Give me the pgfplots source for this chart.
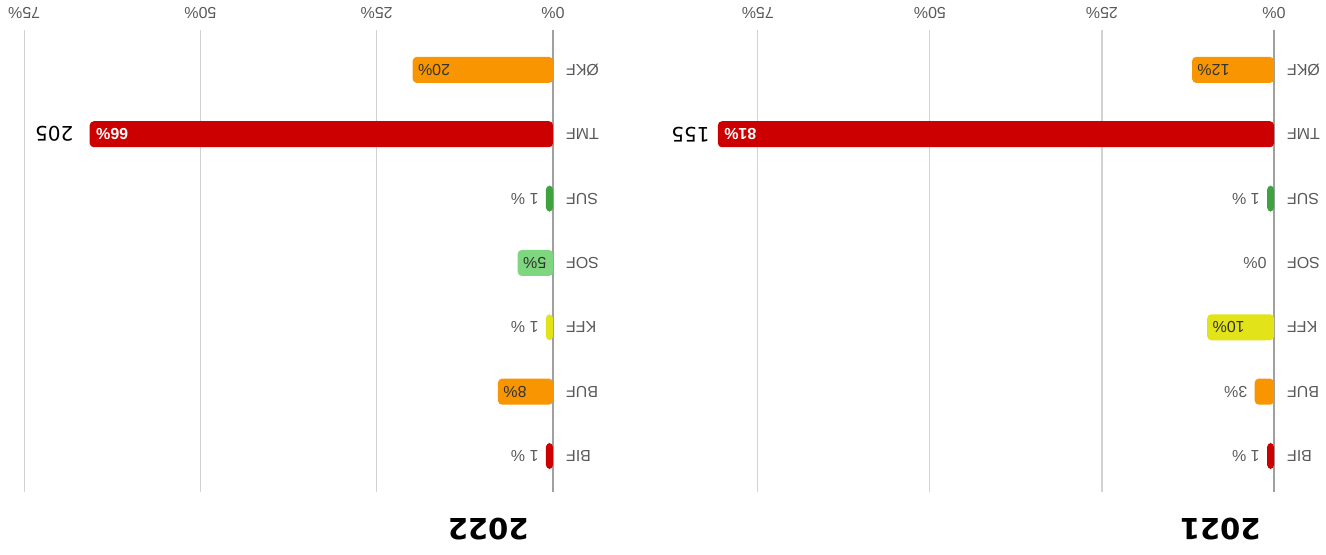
\documentclass[border=0pt]{standalone}
\usepackage{pgfplots}
\pgfplotsset{compat=1.18}
\usepackage{fontspec}
\setmainfont{Liberation Sans}
\newfontfamily\dejavu{DejaVu Sans}
\definecolor{cOrange}{HTML}{F99500}
\definecolor{cRed}{HTML}{CC0000}
\definecolor{cGreen}{HTML}{3EA33E}
\definecolor{cLGreen}{HTML}{7ED67E}
\definecolor{cYellow}{HTML}{E3E31A}
\definecolor{cGrid}{HTML}{D2D2D2}
\definecolor{cZero}{HTML}{A0A0A0}
\definecolor{cText}{HTML}{5A5A5A}
\pgfplotsset{
  panel/.style={
    scale only axis, height=231pt, xmin=0,
    ymin=-0.56, ymax=6.62, y dir=reverse,
    ytick={0,...,6},
    yticklabels={BIF,BUF,KFF,SOF,SUF,TMF,ØKF},
    xtick={0,25,50,75},
    /pgf/number format/assume math mode=true,
    xticklabel={\pgfmathprintnumber{\tick}\%},
    xmajorgrids, major grid style={cGrid, line width=0.6pt},
    separate axis lines, axis lines*=left,
    x axis line style={draw=none},
    y axis line style={draw=cZero, line width=0.7pt, -},
    major tick length=0pt,
    tick label style={font=\fontsize{8}{9}\selectfont, text=cText},
    xticklabel style={yshift=-2pt},
    yticklabel style={xshift=-3pt},
    clip=false,
  },
  bx/.style={xbar, bar width=13pt, bar shift=0pt, fill=#1, draw=none, rounded corners=2pt,
     point meta=explicit symbolic, nodes near coords},
  outl/.style={every node near coord/.append style={anchor=west, inner sep=0pt, xshift=3.5pt, font=\fontsize{8}{9}\selectfont, text=cText}},
  inl/.style={every node near coord/.append style={anchor=east, inner sep=0pt, xshift=-2.5pt, font=\fontsize{8}{9}\selectfont, text=#1}},
  inw/.style={every node near coord/.append style={anchor=east, inner sep=0pt, xshift=-3pt, font=\bfseries\fontsize{8}{9}\selectfont, text=white}},
  tot/.style={draw=none, mark=none, point meta=explicit symbolic, nodes near coords,
     every node near coord/.append style={anchor=west, inner sep=0pt, xshift=#1, font=\dejavu\fontsize{10}{12}\selectfont, text=black}},
}
\begin{document}
\begin{tikzpicture}[rotate=180, transform shape]
\useasboundingbox (0,0) rectangle (663pt,277pt);
% ---------- 2021 ----------
\begin{axis}[panel, at={(26pt,15pt)}, anchor=south west, width=292.5pt, xmax=85]
\addplot[bx=cRed, outl] coordinates {(1,0) [1 \%]};
\addplot[bx=cOrange, outl] coordinates {(2.8,1) [3\%]};
\addplot[bx=cYellow, inl=black!80] coordinates {(9.7,2) [10\%]};
\addplot[bx=white, fill=none, outl] coordinates {(0,3) [0\%]};
\addplot[bx=cGreen, outl] coordinates {(1,4) [1 \%]};
\addplot[bx=cRed, inw] coordinates {(80.8,5) [81\%]};
\addplot[bx=cOrange, inl=black!80] coordinates {(11.9,6) [12\%]};
\addplot[tot=4pt] coordinates {(80.8,5) [155]};
\node[anchor=base west, inner sep=0pt, font=\dejavu\bfseries\fontsize{14.5}{17}\selectfont] at (rel axis cs:0,1) [xshift=6.5pt, yshift=13pt] {2021};
\end{axis}
% ---------- 2022 ----------
\begin{axis}[panel, at={(386.5pt,15pt)}, anchor=south west, width=275pt, xmax=78]
\addplot[bx=cRed, outl] coordinates {(1,0) [1 \%]};
\addplot[bx=cOrange, inl=black!80] coordinates {(7.8,1) [8\%]};
\addplot[bx=cYellow, outl] coordinates {(1,2) [1 \%]};
\addplot[bx=cLGreen, inl=black!80] coordinates {(5,3) [5\%]};
\addplot[bx=cGreen, outl] coordinates {(1,4) [1 \%]};
\addplot[bx=cRed, inw] coordinates {(65.7,5) [66\%]};
\addplot[bx=cOrange, inl=black!80] coordinates {(19.9,6) [20\%]};
\addplot[tot=8pt] coordinates {(65.7,5) [205]};
\node[anchor=base west, inner sep=0pt, font=\dejavu\bfseries\fontsize{14.5}{17}\selectfont] at (rel axis cs:0,1) [xshift=12pt, yshift=13pt] {2022};
\end{axis}
\end{tikzpicture}
\end{document}
